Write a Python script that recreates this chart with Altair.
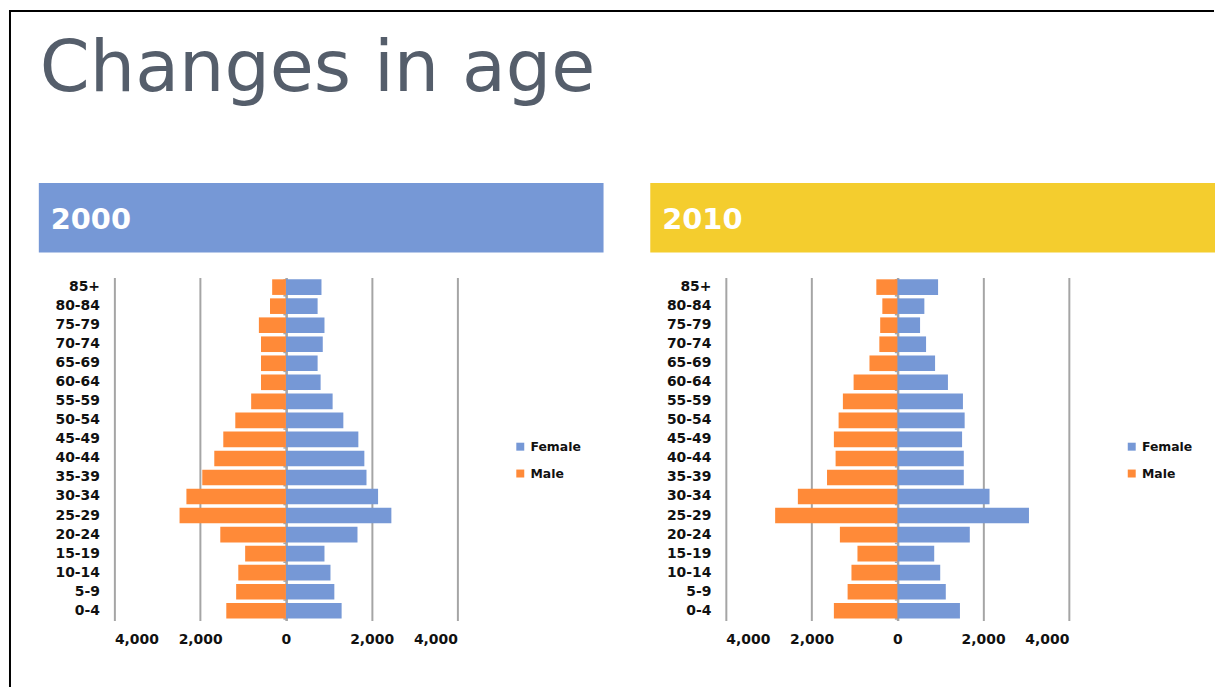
import altair as alt
import pandas as pd

# ---------------- data ----------------
ages = ["0-4", "5-9", "10-14", "15-19", "20-24", "25-29", "30-34", "35-39",
        "40-44", "45-49", "50-54", "55-59", "60-64", "65-69", "70-74",
        "75-79", "80-84", "85+"]

female_2000 = [1300, 1130, 1040, 900, 1670, 2460, 2150, 1880, 1830, 1690,
               1340, 1090, 810, 740, 860, 900, 740, 830]
male_2000 = [1390, 1160, 1110, 950, 1530, 2480, 2320, 1950, 1670, 1460,
             1180, 810, 580, 580, 580, 630, 370, 320]

female_2010 = [1460, 1130, 1000, 860, 1690, 3070, 2150, 1550, 1550, 1510,
               1570, 1530, 1180, 880, 670, 530, 630, 950]
male_2010 = [1480, 1160, 1070, 930, 1340, 2850, 2320, 1640, 1440, 1480,
             1370, 1270, 1020, 650, 420, 400, 350, 490]

years = ["2000", "2010"]
band_colors = ["#7698D6", "#F4CD2E"]
sexes = ["Female", "Male"]
sex_colors = ["#7698D6", "#FF8A38"]
x_ticks = [-4000, -2000, 0, 2000, 4000]
title_text = "Changes in age"

# ---------------- style ----------------
FONT = "DejaVu Sans"
W = 345
H = 345
GRID = "#A5A5A5"
LABEL = "#111111"
age_order = ages[::-1]


def long_df(female, male):
    rows = []
    for a, f, m in zip(ages, female, male):
        rows.append({"age": a, "sex": "Female", "value": f})
        rows.append({"age": a, "sex": "Male", "value": -m})
    return pd.DataFrame(rows)


def panel(year, band_color, female, male, first):
    df = long_df(female, male)
    xs = alt.Scale(domain=[-4000, 4000], nice=False, zero=False)
    ys = alt.Scale(domain=age_order, paddingInner=0.18, paddingOuter=0.1)

    bars = alt.Chart(df).mark_bar().encode(
        x=alt.X("value:Q", scale=xs,
                axis=alt.Axis(values=x_ticks, title=None, domain=False,
                              ticks=False, grid=True, gridColor=GRID,
                              gridWidth=2, gridOpacity=1,
                              labelExpr="format(abs(datum.value), ',')",
                              labelFont=FONT, labelFontWeight="bold",
                              labelFontSize=14, labelColor=LABEL,
                              labelPadding=12)),
        y=alt.Y("age:N", scale=ys, sort=age_order,
                axis=alt.Axis(title=None, domain=False, ticks=False,
                              tickSize=0, labelPadding=15, labelFont=FONT,
                              labelFontWeight="bold", labelFontSize=14,
                              labelColor=LABEL, orient="left")),
        color=alt.Color("sex:N", scale=alt.Scale(domain=sexes, range=sex_colors),
                        legend=alt.Legend(title=None, orient="none",
                                          legendX=402, legendY=164,
                                          symbolType="square", symbolSize=64,
                                          symbolStrokeWidth=0,
                                          labelFont=FONT,
                                          labelFontWeight="bold",
                                          labelFontSize=12.5,
                                          labelColor=LABEL,
                                          rowPadding=14, labelOffset=4)),
    )

    zero_axis = alt.Chart(df).mark_point(opacity=0).encode(
        x=alt.X("value:Q", scale=xs),
        y=alt.Y("age:N", sort=age_order,
                axis=alt.Axis(orient="left", offset=-W / 2, labels=False,
                              title=None, grid=False, domain=True,
                              domainColor=GRID, domainWidth=2, ticks=True,
                              tickBand="extent", tickSize=3, tickColor=GRID,
                              tickWidth=1.5, zindex=0)),
    )

    head = pd.DataFrame({"year": [year]})
    band = alt.Chart(head).mark_rect(color=band_color).encode(
        x=alt.value(-76), x2=alt.value(492),
        y=alt.value(-95), y2=alt.value(-25),
    )
    band_text = alt.Chart(head).mark_text(
        align="left", baseline="alphabetic", font=FONT, fontWeight="bold",
        fontSize=29, color="white",
    ).encode(x=alt.value(-64), y=alt.value(-49), text="year:N")

    layers = [band, band_text, bars, zero_axis]

    if first:
        title = alt.Chart(pd.DataFrame({"t": [title_text]})).mark_text(
            align="left", baseline="alphabetic", font=FONT, fontSize=72,
            color="#555E6B",
        ).encode(x=alt.value(-75), y=alt.value(-187), text="t:N")
        frame_left = alt.Chart(head).mark_rule(color="black", strokeWidth=2).encode(
            x=alt.value(-105), y=alt.value(-268), y2=alt.value(412))
        frame_top = alt.Chart(head).mark_rule(color="black", strokeWidth=2).encode(
            x=alt.value(-106), x2=alt.value(1106), y=alt.value(-268))
        layers = [frame_left, frame_top, title] + layers

    return alt.layer(*layers).resolve_axis(y="independent").properties(
        width=W, height=H)


p1 = panel(years[0], band_colors[0], female_2000, male_2000, True)
p2 = panel(years[1], band_colors[1], female_2010, male_2010, False)

chart = alt.hconcat(p1, p2, spacing=270, bounds="flush").resolve_scale(
    color="independent").resolve_legend(color="independent").properties(
    padding=0, background="white").configure_view(stroke=None)

chart.save("out.html", embed_options={"renderer": "svg", "actions": False})
